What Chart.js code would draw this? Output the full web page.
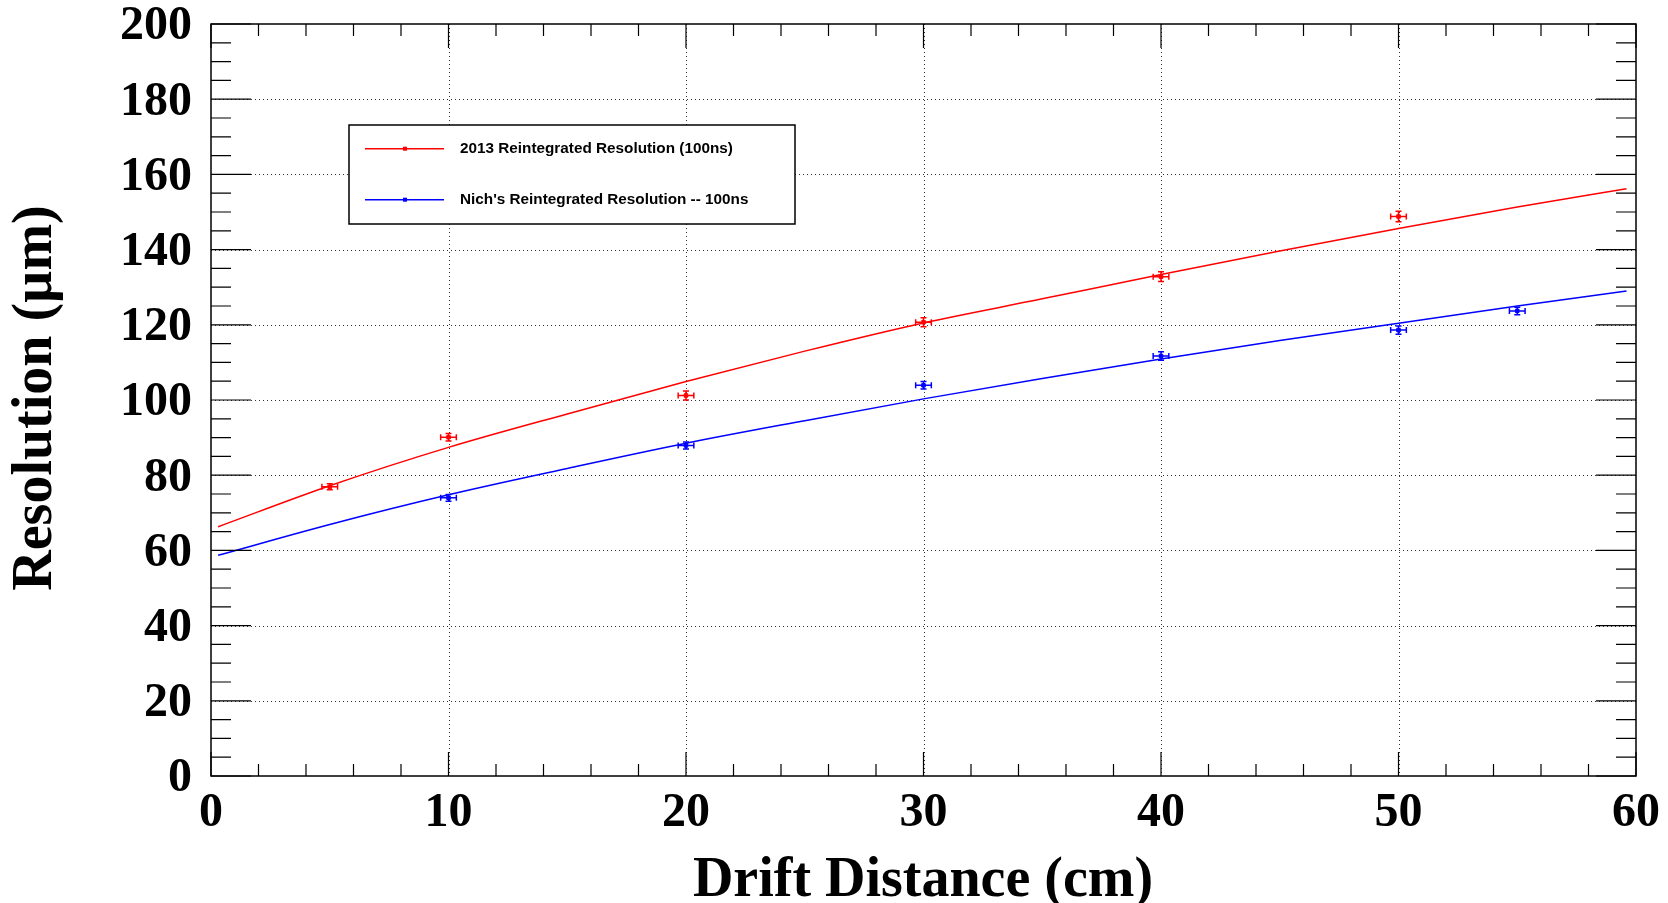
<!DOCTYPE html>
<html>
<head>
<meta charset="utf-8">
<script src="https://cdn.jsdelivr.net/npm/chart.js@4"></script>
<style>
  html, body { margin: 0; padding: 0; background: #fff; overflow: hidden; }
  canvas { display: block; }
</style>
</head>
<body>
<canvas id="res" width="1668" height="903"></canvas>
<script>
// ─── Data ───
const redX    = [5, 10, 20, 30, 40, 50];
const redY    = [76.9, 90.1, 101.2, 120.7, 132.8, 148.8];
const redYErr = [0.8, 1.0, 1.2, 1.2, 1.3, 1.4];
const blueX    = [10, 20, 30, 40, 50, 55];
const blueY    = [74.0, 87.9, 103.9, 111.7, 118.6, 123.7];
const blueYErr = [0.9, 0.9, 1.0, 1.1, 1.1, 1.0];
const xErr = 0.33;

// fit curves, sampled by eye
const fitX    = [0.3, 5, 10, 15, 20, 25, 30, 35, 40, 45, 50, 55, 59.6];
const redFit  = [66.3, 77.2, 87.4, 96.3, 104.9, 113.0, 120.5, 126.9, 133.4, 139.6, 145.6, 151.3, 156.2];
const blueFit = [58.7, 66.9, 74.8, 81.8, 88.5, 94.5, 100.3, 105.7, 110.9, 115.8, 120.4, 125.0, 129.0];

const xTicks = [0, 10, 20, 30, 40, 50, 60];
const yTicks = [0, 20, 40, 60, 80, 100, 120, 140, 160, 180, 200];

const legendLabels = ['2013 Reintegrated Resolution (100ns)', "Nich's Reintegrated Resolution -- 100ns"];
const xTitle = 'Drift Distance (cm)';
const yTitle = 'Resolution (\u00b5m)';

const RED = '#ff0000', BLUE = '#0000ff';
const SERIF = '"Liberation Serif", "Times New Roman", serif';
const SANS = '"Liberation Sans", Arial, sans-serif';

const pts = (xs, ys) => xs.map((x, i) => ({ x: x, y: ys[i] }));

// ─── ROOT-style frame, ticks, grid, error bars, legend, titles ───
const rootFrame = {
    id: 'rootFrame',
    beforeDatasetsDraw(chart) {
        const { ctx, chartArea: a, scales: { x, y } } = chart;
        ctx.save();
        ctx.strokeStyle = '#333';
        ctx.lineWidth = 1;
        ctx.setLineDash([1, 3]);
        xTicks.slice(1, -1).forEach(v => {
            const px = Math.round(x.getPixelForValue(v)) + 0.5;
            ctx.beginPath(); ctx.moveTo(px, a.top); ctx.lineTo(px, a.bottom); ctx.stroke();
        });
        yTicks.slice(1, -1).forEach(v => {
            const py = Math.round(y.getPixelForValue(v)) + 0.5;
            ctx.beginPath(); ctx.moveTo(a.left, py); ctx.lineTo(a.right, py); ctx.stroke();
        });
        ctx.restore();
    },
    afterDatasetsDraw(chart) {
        const { ctx, chartArea: a, scales: { x, y } } = chart;
        ctx.save();

        // error bars
        const bars = [[redX, redY, redYErr, RED], [blueX, blueY, blueYErr, BLUE]];
        ctx.lineWidth = 1.5;
        bars.forEach(([xs, ys, es, col]) => {
            ctx.strokeStyle = col;
            xs.forEach((xv, i) => {
                const px = x.getPixelForValue(xv), py = y.getPixelForValue(ys[i]);
                const x0 = x.getPixelForValue(xv - xErr), x1 = x.getPixelForValue(xv + xErr);
                const y0 = y.getPixelForValue(ys[i] - es[i]), y1 = y.getPixelForValue(ys[i] + es[i]);
                ctx.beginPath();
                ctx.moveTo(x0, py); ctx.lineTo(x1, py);
                ctx.moveTo(x0, py - 3); ctx.lineTo(x0, py + 3);
                ctx.moveTo(x1, py - 3); ctx.lineTo(x1, py + 3);
                ctx.moveTo(px, y0); ctx.lineTo(px, y1);
                ctx.moveTo(px - 3, y0); ctx.lineTo(px + 3, y0);
                ctx.moveTo(px - 3, y1); ctx.lineTo(px + 3, y1);
                ctx.stroke();
            });
        });

        // frame
        ctx.strokeStyle = '#000';
        ctx.lineWidth = 1.5;
        ctx.strokeRect(a.left, a.top, a.right - a.left, a.bottom - a.top);

        // tick marks (inside, all four sides)
        ctx.lineWidth = 1.2;
        ctx.beginPath();
        for (let v = 0; v <= 60; v += 2) {
            const px = x.getPixelForValue(v);
            const len = v % 10 === 0 ? 24 : 12;
            ctx.moveTo(px, a.bottom); ctx.lineTo(px, a.bottom - len);
            ctx.moveTo(px, a.top); ctx.lineTo(px, a.top + len);
        }
        for (let v = 0; v <= 200; v += 5) {
            const py = y.getPixelForValue(v);
            const len = v % 20 === 0 ? 40 : 20;
            ctx.moveTo(a.left, py); ctx.lineTo(a.left + len, py);
            ctx.moveTo(a.right, py); ctx.lineTo(a.right - len, py);
        }
        ctx.stroke();

        // legend box
        ctx.fillStyle = '#fff';
        ctx.fillRect(349, 125, 446, 99);
        ctx.lineWidth = 1.5;
        ctx.strokeRect(349, 125, 446, 99);
        [[148.7, RED], [199.7, BLUE]].forEach(([ly, col], i) => {
            ctx.strokeStyle = col;
            ctx.beginPath(); ctx.moveTo(365, ly); ctx.lineTo(444, ly); ctx.stroke();
            ctx.fillStyle = col;
            ctx.fillRect(403, ly - 2, 4, 4);
            ctx.fillStyle = '#000';
            ctx.font = 'bold 15.3px ' + SANS;
            ctx.textAlign = 'left';
            ctx.textBaseline = 'middle';
            ctx.fillText(legendLabels[i], 460, ly);
        });

        // axis titles
        ctx.fillStyle = '#000';
        ctx.font = 'bold 56px ' + SERIF;
        ctx.textAlign = 'center';
        ctx.textBaseline = 'alphabetic';
        ctx.fillText(xTitle, 923, 896);
        ctx.translate(51, 398);
        ctx.rotate(-Math.PI / 2);
        ctx.fillText(yTitle, 0, 0);
        ctx.restore();
    }
};

new Chart(document.getElementById('res'), {
    type: 'scatter',
    data: {
        datasets: [
            {
                data: pts(fitX, redFit),
                showLine: true,
                borderColor: RED,
                borderWidth: 1.5,
                pointRadius: 0,
                cubicInterpolationMode: 'monotone'
            },
            {
                data: pts(fitX, blueFit),
                showLine: true,
                borderColor: BLUE,
                borderWidth: 1.5,
                pointRadius: 0,
                cubicInterpolationMode: 'monotone'
            },
            {
                data: pts(redX, redY),
                pointStyle: 'rect',
                pointRadius: 2.5,
                backgroundColor: RED,
                borderColor: RED
            },
            {
                data: pts(blueX, blueY),
                pointStyle: 'rect',
                pointRadius: 2.5,
                backgroundColor: BLUE,
                borderColor: BLUE
            }
        ]
    },
    options: {
        responsive: false,
        animation: false,
        devicePixelRatio: 1,
        layout: { padding: { top: 24, right: 32, left: 0, bottom: 0 } },
        plugins: { legend: { display: false }, tooltip: { enabled: false } },
        scales: {
            x: {
                type: 'linear',
                min: 0, max: 60,
                afterBuildTicks: s => { s.ticks = xTicks.map(v => ({ value: v })); },
                afterFit: s => { s.height = 127; s.paddingLeft = 0; s.paddingRight = 0; },
                grid: { display: false, drawTicks: false },
                border: { display: false },
                ticks: {
                    color: '#000',
                    padding: 14,
                    maxRotation: 0,
                    font: { family: SERIF, size: 48, weight: 'bold', lineHeight: 1 }
                }
            },
            y: {
                type: 'linear',
                min: 0, max: 200,
                afterBuildTicks: s => { s.ticks = yTicks.map(v => ({ value: v })); },
                afterFit: s => { s.width = 211; s.paddingTop = 0; s.paddingBottom = 0; },
                grid: { display: false, drawTicks: false },
                border: { display: false },
                ticks: {
                    color: '#000',
                    padding: 19,
                    labelOffset: 3,
                    font: { family: SERIF, size: 48, weight: 'bold', lineHeight: 1 }
                }
            }
        }
    },
    plugins: [rootFrame]
});
</script>
</body>
</html>
